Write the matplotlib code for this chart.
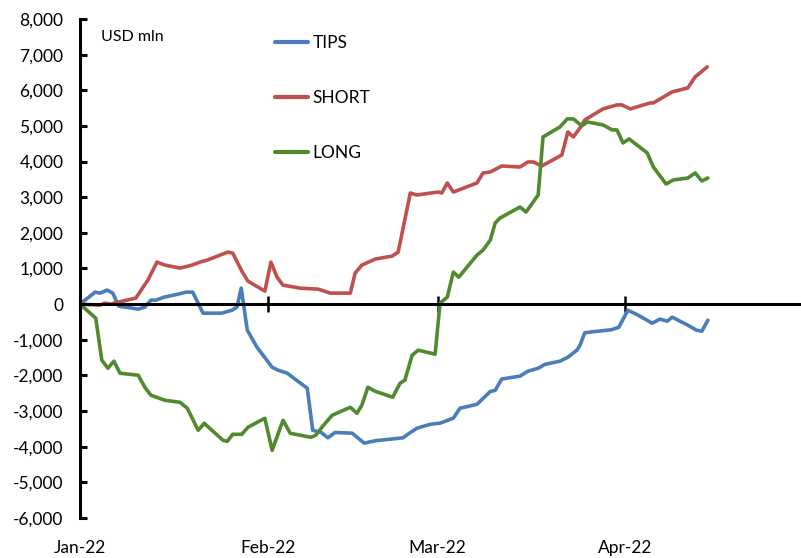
import matplotlib
matplotlib.use("Agg")
import matplotlib.pyplot as plt
import pandas as pd
import numpy as np

plt.rcParams['font.family'] = ['Lato', 'DejaVu Sans']

base = pd.Timestamp("2022-01-01")

# day offsets from 1 Jan 2022 and cumulative flows (USD mln)
tips_days = [0, 2.5, 3.3, 4.5, 5.4, 6.4, 9.6, 10.7, 11.7, 12.5, 13.9, 16.2, 17.5, 18.6,
             20.3, 23.4, 25.1, 25.9, 26.6, 27.6, 29.2, 31.7, 32.7, 34.2, 37.5, 38.4,
             39.8, 40.9, 42.1, 44.9, 46.9, 48.8, 53.3, 54.1, 55.6, 57.8, 59.4, 61.6,
             62.7, 65.5, 67.7, 68.5, 69.6, 72.6, 73.9, 75.6, 76.7, 79.2, 80.5, 82.0,
             82.5, 83.3, 87.6, 88.9, 90.4, 92.1, 94.4, 95.7, 96.9, 97.7, 100.3, 101.7,
             102.6, 103.6]
tips_vals = [0, 337, 309, 393, 309, -56, -140, -84, 112, 112, 197, 281, 337, 337,
             -253, -253, -169, -84, 449, -730, -1208, -1770, -1854, -1938, -2360, -3540,
             -3600, -3750, -3600, -3620, -3900, -3830, -3750, -3650, -3480, -3370, -3340, -3200,
             -2920, -2810, -2450, -2420, -2100, -2020, -1880, -1800, -1690, -1600, -1490, -1290,
             -1150, -800, -720, -650, -170, -310, -534, -420, -478, -365, -590, -730,
             -760, -450]

short_days = [0, 3.3, 4.1, 5.1, 6.3, 9.2, 11.2, 12.7, 14.0, 16.5, 18.5, 19.8, 21.0,
              24.4, 25.2, 26.7, 27.7, 30.5, 31.5, 32.5, 33.5, 36.3, 39.3, 41.3, 44.6,
              45.4, 46.5, 48.7, 51.5, 52.5, 54.5, 55.6, 59.1, 59.7, 60.6, 61.6, 65.5,
              66.5, 67.7, 69.6, 72.6, 73.9, 74.8, 76.2, 79.5, 80.5, 81.4, 82.5, 83.3,
              86.3, 88.6, 89.4, 90.8, 94.1, 94.6, 97.7, 100.3, 101.5, 103.5]
short_vals = [0, -28, 28, 0, 56, 169, 674, 1180, 1096, 1011, 1096, 1180, 1236,
              1461, 1433, 927, 646, 365, 1180, 758, 534, 449, 421, 309, 309,
              871, 1096, 1264, 1348, 1461, 3118, 3062, 3146, 3118, 3399, 3146, 3399,
              3680, 3708, 3876, 3848, 3989, 3989, 3876, 4185, 4831, 4691, 4944, 5169,
              5478, 5590, 5590, 5478, 5646, 5646, 5955, 6067, 6376, 6657]

long_days = [0, 2.6, 3.6, 4.6, 5.6, 6.6, 9.6, 10.7, 11.7, 14.0, 16.5, 17.7, 19.5,
             20.5, 23.6, 24.3, 25.2, 26.7, 27.7, 30.5, 31.7, 33.5, 34.7, 38.1, 38.9,
             39.9, 41.6, 44.6, 45.7, 46.5, 47.5, 48.7, 51.6, 52.8, 53.6, 54.8, 55.8,
             58.6, 59.4, 60.6, 61.6, 62.5, 65.5, 66.5, 67.7, 68.5, 69.3, 72.6, 73.6,
             75.6, 76.4, 79.2, 80.4, 81.4, 82.8, 83.7, 86.3, 87.8, 88.6, 89.6, 90.6,
             93.6, 94.6, 96.7, 97.9, 100.3, 101.5, 102.6, 103.6]
long_vals = [0, -393, -1573, -1798, -1601, -1938, -1994, -2331, -2556, -2697, -2753, -2921, -3539,
             -3343, -3820, -3848, -3652, -3652, -3455, -3202, -4101, -3258, -3624, -3736, -3680,
             -3455, -3118, -2893, -3062, -2837, -2331, -2444, -2612, -2219, -2135, -1433, -1292,
             -1404, 28, 197, 899, 758, 1376, 1517, 1798, 2275, 2416, 2725, 2584,
             3062, 4691, 4972, 5197, 5197, 5000, 5112, 5028, 4888, 4888, 4522, 4635,
             4242, 3848, 3371, 3483, 3539, 3680, 3455, 3539]

series_names = ["TIPS", "SHORT", "LONG"]
series_colors = ["#4A7EBB", "#C0504D", "#4F8B2E"]
month_labels = ["Jan-22", "Feb-22", "Mar-22", "Apr-22"]
month_starts = pd.to_datetime(["2022-01-01", "2022-02-01", "2022-03-01", "2022-04-01"])


def to_dates(days):
    return base + pd.to_timedelta(np.array(days), unit="D")


fig = plt.figure(figsize=(8.01, 5.58), dpi=100)
ax = fig.add_axes([80 / 801, 40 / 558, 720 / 801, 499 / 558])

lines = []
for days, vals, name, col in zip([tips_days, short_days, long_days],
                                  [tips_vals, short_vals, long_vals],
                                  series_names, series_colors):
    ln, = ax.plot(to_dates(days), vals, color=col, lw=2.6, label=name,
                  solid_joinstyle='round', solid_capstyle='round')
    lines.append(ln)

ax.set_ylim(-6000, 8000)
ax.set_xlim(base, base + pd.Timedelta(days=118.8))
ax.set_yticks(np.arange(-6000, 8001, 1000))
ax.yaxis.set_major_formatter(matplotlib.ticker.FuncFormatter(lambda v, p: f"{int(v):,}"))

for s in ["top", "right"]:
    ax.spines[s].set_visible(False)
ax.spines["left"].set_linewidth(2.2)
ax.spines["bottom"].set_position(("data", 0))
ax.spines["bottom"].set_linewidth(2.2)

ax.tick_params(axis="y", direction="in", length=5, width=2.2, labelsize=12.5, pad=12)
ax.set_xticks(month_starts[1:])
ax.tick_params(axis="x", direction="inout", length=12, width=1.8, labelbottom=False)

for d, lab in zip(month_starts, month_labels):
    ax.text(d, -0.06, lab, transform=ax.get_xaxis_transform(), ha="center", va="center",
            fontsize=12.5)

ax.text(101 / 801, 1 - 37 / 558, "USD mln", transform=fig.transFigure, fontsize=11.5,
        va="center", ha="left")

leg = ax.legend(handles=lines, loc="upper left", bbox_to_anchor=(275 / 801, 1 - 35 / 558),
                bbox_transform=fig.transFigure, frameon=False, fontsize=12.5,
                handlelength=1.9, handletextpad=0.25, labelspacing=2.25, borderpad=0,
                borderaxespad=0)
for l in leg.get_lines():
    l.set_linewidth(3)

fig.savefig("out.png", dpi=100)
